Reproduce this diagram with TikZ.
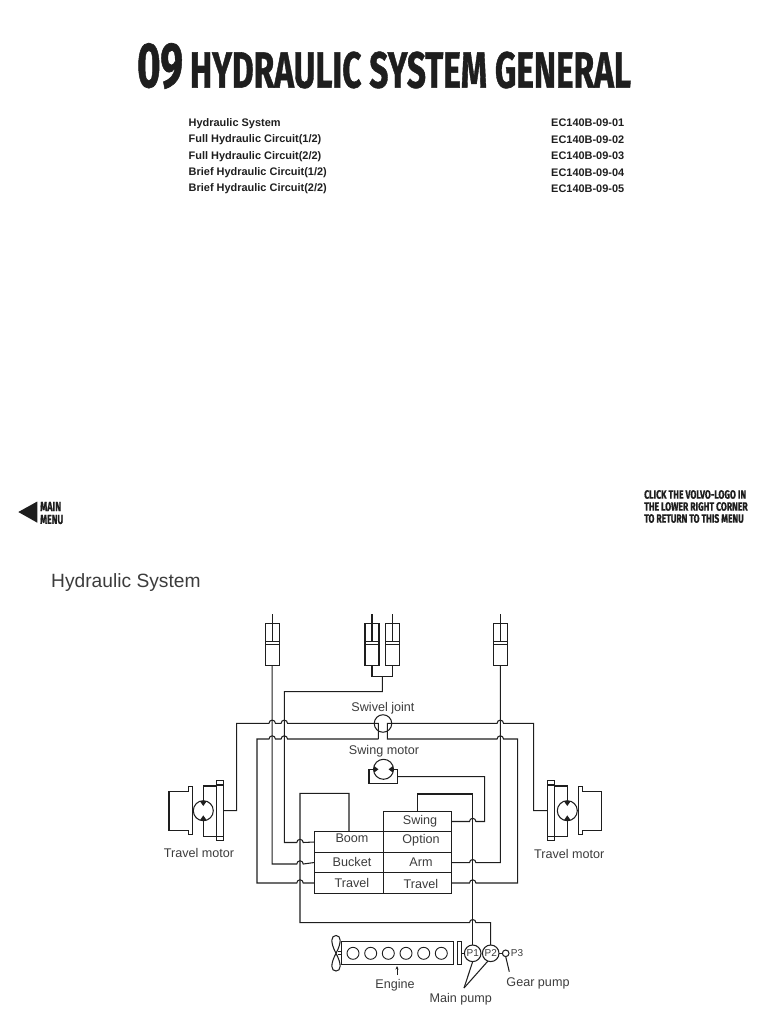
\documentclass[tikz,border=0pt]{standalone}
\usepackage{fontspec}
\setmainfont{Liberation Sans}
\newfontfamily\headfont[BoldFeatures={FakeBold=1.1}]{Fira Sans}
\usetikzlibrary{positioning, arrows.meta}
\definecolor{ink}{HTML}{1E1E1E}
\definecolor{labelgray}{HTML}{3C3C3C}
\tikzset{pipe/.style={draw=ink,line width=1.05pt},
         cyl/.style={draw=ink,line width=1.05pt,minimum width=14mm/2.845,minimum height=42.5pt,inner sep=0pt,outer sep=0pt},
         spool/.style={draw=ink,line width=1.05pt,minimum height=20.5pt,inner sep=0pt,outer sep=0pt},
         motor/.style={circle,draw=ink,line width=1.05pt,minimum size=20pt,inner sep=0pt,outer sep=0pt},
         bore/.style={circle,draw=ink,line width=0.9pt,minimum size=12pt,inner sep=0pt},
         pump/.style={circle,draw=ink,line width=1.05pt,minimum size=16.6pt,inner sep=0pt,outer sep=0pt,font=\fontsize{10}{10}\selectfont,text=labelgray},
         lbl/.style={inner sep=0pt,text=labelgray,font=\fontsize{12.6}{14}\selectfont},
         entry/.style={anchor=west,inner sep=0pt,text=ink,font=\fontsize{10.95}{12}\selectfont\bfseries},
        }
% bump of a pipe over another one, left to right and right to left
\newcommand{\hop}[2]{-- (#1-3.2,#2) arc[start angle=180,end angle=360,radius=3.2]}
\newcommand{\hopl}[2]{-- (#1+3.2,#2) arc[start angle=360,end angle=180,radius=3.2]}
% squeezed heading letters
\newcommand{\squeezed}[3]{\resizebox{#1pt}{#2pt}{\headfont\bfseries #3}}

\begin{document}
\begin{tikzpicture}[x=1pt,y=-1pt]
        \useasboundingbox(0,0)rectangle(768,1024);

        % heading and list
        \node[inner sep=0pt,text=ink](num)at(160,66){\squeezed{46}{44}{09}};
        \node[inner sep=0pt,text=ink](title)at(410.5,70){\squeezed{441}{36}{HYDRAULIC SYSTEM GENERAL}};
        \foreach \y/\txt/\code in {123.5/Hydraulic System/01,140/Full Hydraulic Circuit(1\slash 2)/02,157/Full Hydraulic Circuit(2\slash 2)/03,173/Brief Hydraulic Circuit(1\slash 2)/04,189/Brief Hydraulic Circuit(2\slash 2)/05}{
            \node[entry](l\code)at(188.5,\y){\txt};
        }
        \foreach \y/\code in {123/01,139.5/02,156/03,172.5/04,188.5/05}{
            \node[entry](r\code)at(551,\y){EC140B-09-\code};
        }

        % menu hints
        \fill[ink](18.3,512)--(37.3,501.5)--(37.3,522.7)--cycle;
        \node[inner sep=0pt,anchor=west,text=ink](mm1)at(40,506.5){\squeezed{21}{9}{MAIN}};
        \node[inner sep=0pt,anchor=west,text=ink](mm2)at(40,519.5){\squeezed{23}{9}{MENU}};
        \node[inner sep=0pt,anchor=west,text=ink](hint1)at(644,494.5){\squeezed{102}{8.5}{CLICK THE VOLVO-LOGO IN}};
        \node[inner sep=0pt,anchor=west,text=ink](hint2)at(644,506.5){\squeezed{103.5}{8.5}{THE LOWER RIGHT CORNER}};
        \node[inner sep=0pt,anchor=west,text=ink](hint3)at(644,518.5){\squeezed{99.5}{8.5}{TO RETURN TO THIS MENU}};

        \node[inner sep=0pt,anchor=west,text=labelgray,font=\fontsize{19.2}{21}\selectfont](head)at(51,582.5){Hydraulic System};

        % cylinders
        \foreach \n/\x in {c1/272.2,c2/372,c3/392.3,c4/500.3}{
            \node[cyl](\n)at(\x,644.5){};
            \draw[pipe](\x,614)--(\n.north)--(\x,642);
            \draw[pipe](\n.west|-0,641.7)--(\n.east|-0,641.7);
            \draw[pipe](\n.west|-0,644.5)--(\n.east|-0,644.5);
        }

        % control valve
        \node[spool,minimum width=69pt](boom)at(348.8,842){};
        \node[spool,minimum width=69pt](bucket)at(348.8,862.5){};
        \node[spool,minimum width=69pt](trl)at(348.8,883){};
        \node[spool,minimum width=68pt](swing)at(417.3,821.5){};
        \node[spool,minimum width=68pt](option)at(417.3,842){};
        \node[spool,minimum width=68pt](arm)at(417.3,862.5){};
        \node[spool,minimum width=68pt](trr)at(417.3,883){};
        \node[lbl](tboom)at(352,838.5){Boom};
        \node[lbl](tbucket)at(352,861.5){Bucket};
        \node[lbl](ttrl)at(352,882.5){Travel};
        \node[lbl](tswing)at(420,821.5){Swing};
        \node[lbl](toption)at(421,840.5){Option};
        \node[lbl](tarm)at(421,862.5){Arm};
        \node[lbl](ttrr)at(421,883.5){Travel};

        % swivel joint and swing motor
        \node[circle,draw=ink,line width=1.05pt,minimum size=17.5pt,inner sep=0pt](swivel)at(383,723.5){};
        \node[motor](smotor)at(383.5,769.3){};
        \coordinate(sl)at(369,769.3);
        \coordinate(sr)at(397.7,769.3);
        \draw[pipe](smotor.west)--(sl)--(369,783.7)--(397.7,783.7)--(sr)--(smotor.east);
        \fill[ink](378.5,769.3)--(374,766)--(374,772.6)--cycle;
        \fill[ink](388.5,769.3)--(393,766)--(393,772.6)--cycle;
        \node[lbl](tswivel)at(383,708.5){Swivel joint};
        \node[lbl](tsm)at(384,751.5){Swing motor};

        % travel motors
        \node[motor](m1)at(203.3,810.7){};
        \node[draw=ink,line width=1.05pt,minimum width=7.4pt,minimum height=59.7pt,inner sep=0pt,outer sep=0pt](f1)at(220,810.8){};
        \draw[pipe](f1.west|-0,785)--(f1.east|-0,785);
        \draw[pipe](f1.west|-0,836.7)--(f1.east|-0,836.7);
        \draw[pipe](f1.west|-0,786)--(203.3,786)--(m1.north);
        \draw[pipe](f1.west|-0,836.7)--(203.3,836.7)--(m1.south);
        \draw[pipe](m1.west)--(192.7,810.7);
        \draw[pipe](169,791.3)--(188.3,791.3)--(188.3,786.7)--(192.7,786.7)--(192.7,834.3)--(188.3,834.3)--(188.3,830.7)--(169,830.7)--cycle;
        \fill[ink](203.3,806)--(199.8,801)--(206.8,801)--cycle;
        \fill[ink](203.3,815.4)--(199.8,820.4)--(206.8,820.4)--cycle;
        \node[lbl](tm1)at(199,852.5){Travel motor};

        \node[motor](m2)at(567.3,810.7){};
        \node[draw=ink,line width=1.05pt,minimum width=7.4pt,minimum height=59.7pt,inner sep=0pt,outer sep=0pt](f2)at(551,810.8){};
        \draw[pipe](f2.west|-0,785)--(f2.east|-0,785);
        \draw[pipe](f2.west|-0,836.7)--(f2.east|-0,836.7);
        \draw[pipe](f2.east|-0,786)--(567.3,786)--(m2.north);
        \draw[pipe](f2.east|-0,836.7)--(567.3,836.7)--(m2.south);
        \draw[pipe](m2.east)--(578.3,810.7);
        \draw[pipe](601.7,791.3)--(582.7,791.3)--(582.7,786.7)--(578.3,786.7)--(578.3,834.3)--(582.7,834.3)--(582.7,830.7)--(601.7,830.7)--cycle;
        \fill[ink](567.3,806)--(563.8,801)--(570.8,801)--cycle;
        \fill[ink](567.3,815.4)--(563.8,820.4)--(570.8,820.4)--cycle;
        \node[lbl](tm2)at(569.3,854){Travel motor};

        % engine and pumps
        \node[draw=ink,line width=1.05pt,minimum width=111.6pt,minimum height=23.3pt,inner sep=0pt,outer sep=0pt](engine)at(397.5,953.3){};
        \foreach \n/\x in {b1/353,b2/370.7,b3/388.3,b4/406,b5/423.7,b6/441.3}{
            \node[bore](\n)at(\x,953.3){};
        }
        \node[draw=ink,line width=1.05pt,minimum width=4.4pt,minimum height=23.3pt,inner sep=0pt,outer sep=0pt](wheel)at(459.5,953.3){};
        \node[pump](p1)at(472.7,953.3){P1};
        \node[pump](p2)at(490.7,953.3){P2};
        \node[circle,draw=ink,line width=1.05pt,minimum size=6.6pt,inner sep=0pt,outer sep=0pt](p3)at(505.7,953.3){};
        \node[inner sep=0pt,text=labelgray,font=\fontsize{10}{10}\selectfont](tp3)at(517,953){P3};
        \draw[pipe](wheel.east)--(p1.west);
        \draw[pipe](p2.east)--(p3.west);
        \draw[pipe](338,951.8)--(engine.west|-0,951.8);
        \draw[pipe](338,954.8)--(engine.west|-0,954.8);
        \draw[pipe](336,953.3)..controls(330,942)and(331,935.5)..(336,935.5)..controls(341,935.5)and(342,942)..(336,953.3);
        \draw[pipe](336,953.3)..controls(330,964.6)and(331,971)..(336,971)..controls(341,971)and(342,964.6)..(336,953.3);
        \node[lbl](teng)at(395,985){Engine};
        \node[lbl](tmain)at(460.7,999){Main pump};
        \node[lbl](tgear)at(538,983.5){Gear pump};
        \draw[pipe,line width=0.7pt,-{Stealth[length=3.5pt,width=3pt]}](397,975)--(397,966);
        \coordinate(fork)at(464,988);
        \draw[pipe](fork)--(p1.south);
        \draw[pipe](fork)--(p2.250);
        \coordinate(gear)at(509.3,971.7);
        \draw[pipe](gear)--(p3.south);

        % pipes
        \draw[pipe](c1.south)--(272.2,864)\hop{300}{864}--(bucket.west);
        \draw[pipe](c2.south)--(372,676.7)--(392.3,676.7)--(c3.south);
        \draw[pipe](382.3,676.7)--(382.3,691.7)--(284.3,691.7)--(284.3,842.5)\hop{300}{842.5}--(boom.west);
        \draw[pipe](f1.east|-0,810.7)--(236.7,810.7)--(236.7,723.3)\hop{272.2}{723.3}\hop{284.3}{723.3}--(378.3,723.3)--(378.3,739);
        \draw[pipe](trl.west)\hopl{300}{883}--(257,883)--(257,739)\hop{272.2}{739}\hop{284.3}{739}--(378.3,739);
        \draw[pipe](trr.east)\hop{472.7}{883}--(517.7,883)--(517.7,739)\hopl{500.3}{739}--(387.3,739)--(387.3,723.3)\hop{500.3}{723.3}--(533.7,723.3)--(533.7,810.7)--(f2.west|-0,810.7);
        \draw[pipe](arm.east|-0,862.7)\hop{472.7}{862.7}--(500.3,862.7)--(c4.south);
        \draw[pipe](swing.east)\hop{472.7}{821.5}--(484.7,821.5)--(484.7,776.7)--(397.7,776.7);
        \draw[pipe](boom.north-|349,0)--(349,793.3)--(300,793.3)--(300,922.7)\hop{472.7}{922.7}--(490.7,922.7)--(p2.north);
        \draw[pipe](swing.north-|417.7,0)--(417.7,794)--(472.7,794)--(p1.north);
    \end{tikzpicture}
\end{document}
